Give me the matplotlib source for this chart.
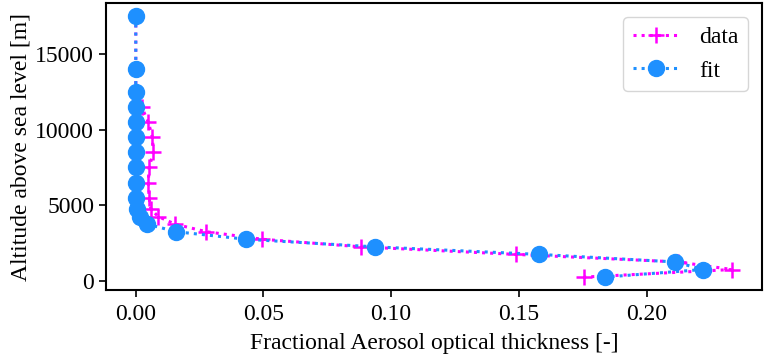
import matplotlib
matplotlib.use("Agg")
import matplotlib.pyplot as plt

# Fit (blue circles)
fit_x = [0.0, 0.0, 0.0, 0.0, 0.0, 0.0, 0.0, 0.0, 0.0, 0.0,
         0.0006, 0.0015, 0.0045, 0.0158, 0.0433, 0.0935, 0.1580, 0.2113, 0.2220, 0.1839]
fit_alt = [17500, 14000, 12500, 11500, 10500, 9500, 8500, 7500, 6500, 5500,
           4750, 4250, 3750, 3250, 2750, 2250, 1750, 1250, 750, 250]

# Data (magenta plus)
data_x = [0.0, 0.0, 0.0, 0.0023, 0.0049, 0.0065, 0.0069, 0.0052, 0.0049, 0.0052,
          0.0059, 0.0088, 0.0154, 0.0276, 0.0496, 0.0883, 0.1488, 0.2123, 0.2335, 0.1756]
data_alt = [17500, 14000, 12500, 11500, 10500, 9500, 8500, 7500, 6500, 5500,
            4750, 4250, 3750, 3250, 2750, 2250, 1750, 1250, 750, 250]

plt.rcParams['font.family'] = ['Liberation Serif', 'DejaVu Serif']
plt.rcParams['font.size'] = 17

fig = plt.figure(figsize=(7.68, 3.64), dpi=100)
ax = fig.add_axes([0.138, 0.203, 0.854, 0.788])

ax.plot(data_x, data_alt, linestyle=':', color='#ff00ff', marker='+',
        markersize=12, markeredgewidth=1.8, linewidth=2.2, label='data')
ax.plot(fit_x, fit_alt, linestyle=':', color='#1e90ff', marker='o',
        markersize=11.5, linewidth=2.2, label='fit')

ax.set_xlabel('Fractional Aerosol optical thickness [-]', labelpad=6)
ax.set_ylabel('Altitude above sea level [m]', labelpad=3)
ax.set_xticks([0.0, 0.05, 0.10, 0.15, 0.20])
ax.set_xticklabels(['0.00', '0.05', '0.10', '0.15', '0.20'])
ax.set_yticks([0, 5000, 10000, 15000])
for s in ax.spines.values():
    s.set_linewidth(1.5)
ax.tick_params(width=1.2, length=5)
ax.tick_params(axis='x', pad=5)
ax.legend(loc='upper right', fancybox=True, borderaxespad=0.6)

fig.savefig('out.png', dpi=100)
